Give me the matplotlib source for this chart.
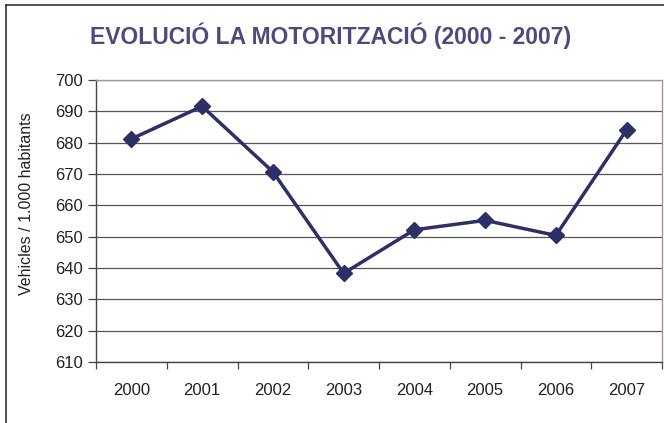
import matplotlib
matplotlib.use('Agg')
import matplotlib.pyplot as plt
from matplotlib.lines import Line2D
import numpy as np

years = ['2000', '2001', '2002', '2003', '2004', '2005', '2006', '2007']
vehicles = [681.2, 691.6, 670.7, 638.3, 652.2, 655.2, 650.4, 684.1]
y_ticks = list(range(610, 701, 10))

plt.rcParams['font.family'] = ['Liberation Sans', 'DejaVu Sans']

W, H = 664, 423
fig = plt.figure(figsize=(W / 100, H / 100), dpi=100)
fig.patch.set_facecolor('white')

# outer chart frame (only left and top visible)
fig.add_artist(Line2D([6 / W, 6 / W], [0, 1 - 5 / H], transform=fig.transFigure, color='#333333', lw=1.2))
fig.add_artist(Line2D([6 / W, 1], [1 - 5 / H, 1 - 5 / H], transform=fig.transFigure, color='#333333', lw=1.2))

left, right, top, bottom = 96, 662, 80, 362
ax = fig.add_axes([left / W, 1 - bottom / H, (right - left) / W, (bottom - top) / H])

ind = np.arange(len(years))
ax.plot(ind, vehicles, color='#2E2F66', lw=2.5, marker='D', markersize=8,
        markerfacecolor='#2E2F66', markeredgecolor='#2E2F66', zorder=3, clip_on=False)

ax.set_xlim(-0.5, len(years) - 0.5)
ax.set_ylim(610, 700)
ax.set_yticks(y_ticks)
ax.set_yticklabels([str(v) for v in y_ticks])
ax.set_xticks(ind)
ax.set_xticklabels(years)
ax.set_xticks(np.arange(-0.5, len(years)), minor=True)

ax.grid(True, axis='y', color='#555555', lw=0.9)
ax.set_axisbelow(True)

for s in ['left', 'bottom']:
    ax.spines[s].set_color('#444444')
    ax.spines[s].set_linewidth(1.0)
for s in ['top', 'right']:
    ax.spines[s].set_color('#A09898')
    ax.spines[s].set_linewidth(1.0)

ax.tick_params(axis='y', direction='out', length=6, width=0.9, color='#444444',
               labelsize=12, labelcolor='#222222', pad=3.5)
ax.tick_params(axis='x', which='major', length=0, labelsize=12, labelcolor='#222222', pad=15)
ax.tick_params(axis='x', which='minor', direction='out', length=5, width=0.9, color='#444444')

ax.set_ylabel('Vehicles / 1.000 habitants', fontsize=11.5, color='#222222')
ax.yaxis.set_label_coords((34 - left) / (right - left), 0.56)

fig.text(331 / W, 1 - 36 / H, 'EVOLUCIÓ LA MOTORITZACIÓ (2000 - 2007)', ha='center', va='center',
         fontsize=16.5, fontweight='bold', color='#4F4A7E')

fig.savefig('out.png', dpi=100)
